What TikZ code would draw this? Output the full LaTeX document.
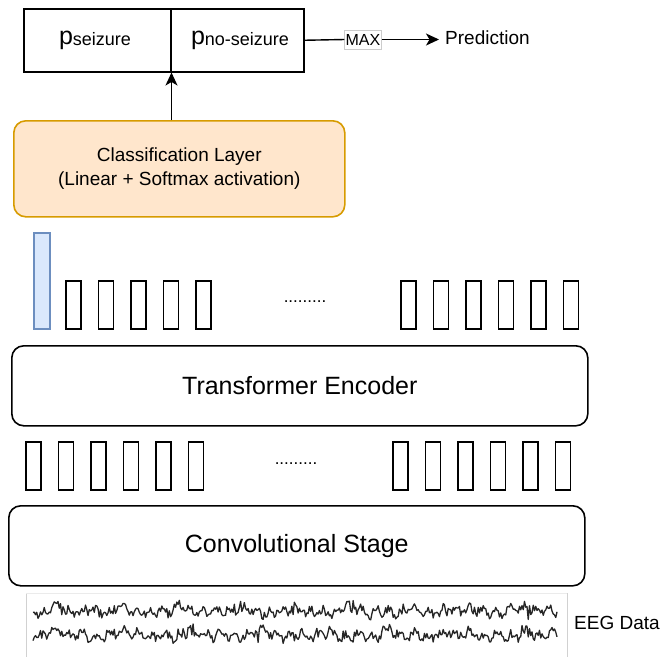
\documentclass[tikz,border=0pt]{standalone}
\usepackage{fontspec}
\setmainfont{Liberation Sans}
\usetikzlibrary{arrows.meta}
\definecolor{clsfill}{HTML}{FFE6CC}
\definecolor{clsline}{HTML}{D79B00}
\definecolor{tokfill}{HTML}{DAE8FC}
\definecolor{tokline}{HTML}{6C8EBF}
\tikzset{
  fsz/.style={font=\fontsize{#1}{#1}\selectfont},
  stage/.style={draw=black, line width=1.6pt, rounded corners=12pt, inner sep=0pt},
  tokbox/.style={draw=black, line width=1.5pt, inner sep=0pt, minimum width=15pt, minimum height=48pt},
  probbox/.style={draw=black, line width=1.5pt, inner sep=0pt, minimum height=63pt},
  arr/.style={-{Stealth[length=13pt,width=12pt,inset=3.5pt]}, line width=1.4pt},
  eeg/.style={black!85, line width=1.3pt, line join=round},
}
\begin{document}
\begin{tikzpicture}[x=1pt,y=-1pt]
\useasboundingbox (0,0) rectangle (660,657);

% output probabilities
\node[probbox, minimum width=147pt, anchor=north west] (ps) at (23,8) {};
\node[probbox, minimum width=133pt, anchor=north west] (pn) at (170,8) {};
\node[fsz=25] (pst) at (95,40) {p\raisebox{-1.5pt}{\fontsize{18}{20}\selectfont seizure}};
\node[fsz=25] (pnt) at (240,40) {p\raisebox{-1.5pt}{\fontsize{18}{20}\selectfont no-seizure}};
\node[fsz=16, draw=black!20, line width=0.6pt, fill=white, inner sep=1pt, minimum height=19pt] (max) at (363,39.5) {MAX};
\node[fsz=19, anchor=west, inner sep=0pt] (pred) at (445,37.5) {Prediction};
\coordinate (predtip) at (439,39.5);

% classification head
\node[stage, draw=clsline, fill=clsfill, minimum width=331pt, minimum height=96pt, anchor=north west, align=center, fsz=19] (cls) at (13,120)
  {Classification Layer\\[5pt](Linear + Softmax activation)};

% classification token
\node[draw=tokline, fill=tokfill, line width=1.5pt, inner sep=0pt, minimum width=16pt, minimum height=96pt, anchor=north west] (cls-tok) at (33,232) {};

% encoder output tokens
\foreach \x [count=\i] in {65,97.5,130,162.5,195,400,432.5,465,497.5,530,562.5}
  \node[tokbox, anchor=north west] (out\i) at (\x,280) {};
\node[fsz=17] (outdots) at (305,302) {.........};

% transformer encoder
\node[stage, minimum width=576pt, minimum height=80pt, anchor=north west, fsz=25] (enc) at (11,345) {Transformer Encoder};

% input tokens
\foreach \x [count=\i] in {25,57.5,90,122.5,155,187.5,392,424.5,457,489.5,522,554.5}
  \node[tokbox, anchor=north west] (in\i) at (\x,441) {};
\node[fsz=17] (indots) at (296,464) {.........};

% convolutional stage
\node[stage, minimum width=576pt, minimum height=80pt, anchor=north west, fsz=25] (conv) at (8,505) {Convolutional Stage};

% raw EEG signal
\draw[black!18, line width=0.8pt] (26,593) -- (26,657);
\draw[black!18, line width=0.8pt] (567,593) -- (567,657);
\draw[black!8, line width=0.6pt] (26,593) -- (567,593);
\pgfmathsetseed{4217}
\draw[eeg] plot[variable=\t, domain=0:524, samples=420]
  ({33+\t}, {612 + 3*sin(27*\t) + 1.5*sin(11*\t+30) + 4.5*rand
     - 8*sin(3.1*\t)*sin(3.1*\t)*sin(3.1*\t)*sin(3.1*\t)*sin(3.1*\t)*sin(3.1*\t)*abs(rand)});
\pgfmathsetseed{915}
\draw[eeg] plot[variable=\t, domain=0:524, samples=420]
  ({33+\t}, {636 + 3*sin(26*\t+70) + 1.5*sin(13*\t) + 4.5*rand
     - 8*sin(2.7*\t+20)*sin(2.7*\t+20)*sin(2.7*\t+20)*sin(2.7*\t+20)*sin(2.7*\t+20)*sin(2.7*\t+20)*abs(rand)});
\node[fsz=19, anchor=west, inner sep=0pt] (eegt) at (574,623) {EEG Data};

% connectors
\draw[arr] (cls.north -| ps.south east) -- (ps.south east);
\draw[line width=1.4pt] (pn.east) -- (max.west);
\draw[arr] (max.east) -- (predtip);
\end{tikzpicture}
\end{document}
